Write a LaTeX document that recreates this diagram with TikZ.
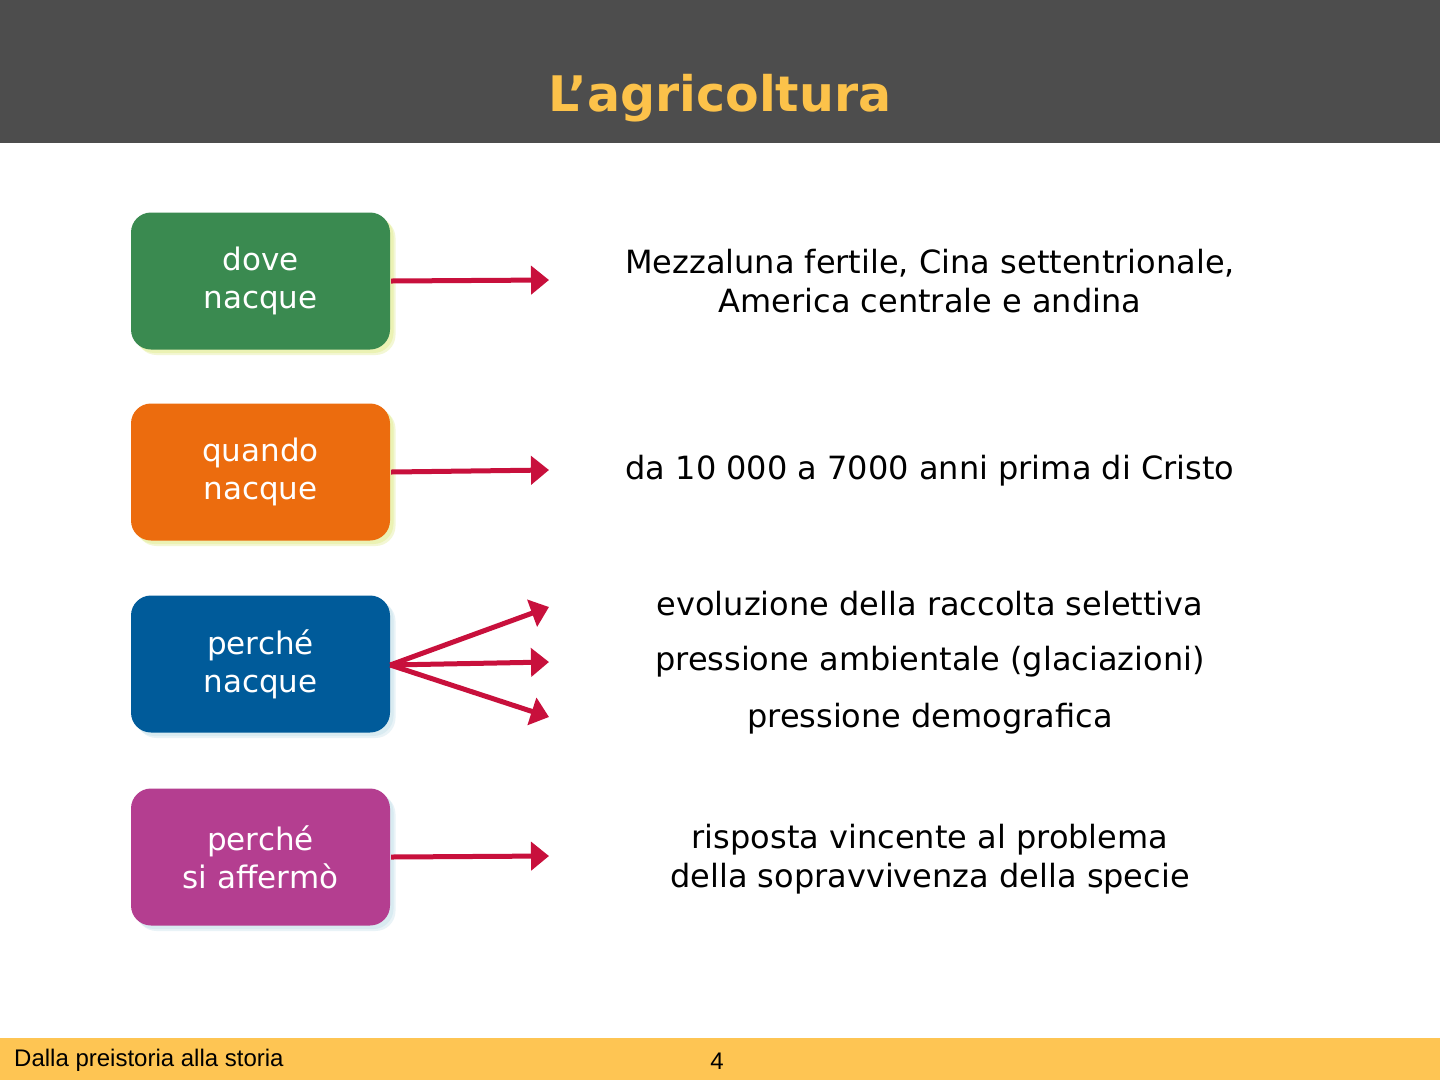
\documentclass[tikz,border=0pt]{standalone}
\usepackage{fontspec}
\setmainfont{DejaVu Sans}
\newfontfamily\footfont{Liberation Sans}
\usetikzlibrary{arrows.meta}
\definecolor{hdr}{HTML}{4D4D4D}
\definecolor{ttl}{HTML}{FCC24A}
\definecolor{ftr}{HTML}{FEC553}
\definecolor{cgreen}{HTML}{3A8A50}
\definecolor{corange}{HTML}{EC6C0E}
\definecolor{cblue}{HTML}{005B9A}
\definecolor{cmag}{HTML}{B43E90}
\definecolor{arr}{HTML}{C8103C}
\definecolor{shy}{HTML}{E6EFA0}
\definecolor{shb}{HTML}{CFE6EE}
\tikzset{
  boxstyle/.style={rounded corners=20pt, minimum width=259pt, minimum height=137pt,
    inner sep=0pt, text=white, align=center,
    font=\fontsize{31}{38}\selectfont},
  shadowbox/.style={rounded corners=20pt, minimum width=259pt, minimum height=137pt, inner sep=0pt},
  rtext/.style={align=center, text=black, font=\fontsize{32}{38.5}\selectfont},
  arrowline/.style={draw=arr, line width=5pt, -{Triangle[length=18pt,width=28pt]}},
}
\begin{document}
\begin{tikzpicture}[x=1pt,y=-1pt]
\useasboundingbox (0,0) rectangle (1440,1080);
\fill[white] (0,0) rectangle (1440,1080);
% header
\fill[hdr] (0,0) rectangle (1440,143);
\node[text=ttl, font=\fontsize{49}{52}\selectfont\bfseries] (title) at (720,98) {L’agricoltura};
% footer
\fill[ftr] (0,1038) rectangle (1440,1080);
\node[anchor=west, inner sep=0pt, font=\footfont\fontsize{24}{28}\selectfont] (foot) at (14,1060) {Dalla preistoria alla storia};
\node[inner sep=0pt, font=\footfont\fontsize{24}{28}\selectfont] (page) at (717,1061) {4};
% shadows
\foreach \cy/\sc in {280.5/shy, 471.5/shy, 663.5/shb, 856.5/shb}{
  \node[shadowbox, fill=\sc, opacity=0.45] at (266,\cy+6) {};
  \node[shadowbox, fill=\sc, opacity=0.6] at (264,\cy+4) {};
}
% boxes
\node[boxstyle, fill=cgreen] (b1) at (260.5,281) {dove\\nacque};
\node[boxstyle, fill=corange] (b2) at (260.5,472) {quando\\nacque};
\node[boxstyle, fill=cblue] (b3) at (260.5,664) {perché\\nacque};
\node[boxstyle, fill=cmag] (b4) at (260.5,857) {perché\\si affermò};
% arrow ends
\coordinate (e1) at (549,280);
\coordinate (e2) at (549,470);
\coordinate (e3a) at (549,607);
\coordinate (e3b) at (549,662);
\coordinate (e3c) at (549,717);
\coordinate (e4) at (549,856);
\draw[arrowline] ([xshift=1pt]b1.east) -- (e1);
\draw[arrowline] ([xshift=1pt]b2.east) -- (e2);
\draw[arrowline] ([yshift=-1pt]b3.east) -- (e3a);
\draw[arrowline] ([yshift=-1pt]b3.east) -- (e3b);
\draw[arrowline] ([yshift=-1pt]b3.east) -- (e3c);
\draw[arrowline] ([xshift=1pt]b4.east) -- (e4);
% texts
\node[rtext] (t1) at (930,281) {Mezzaluna fertile, Cina settentrionale,\\America centrale e andina};
\node[rtext] (t2) at (930,471) {da 10 000 a 7000 anni prima di Cristo};
\node[rtext] (t3a) at (930,604) {evoluzione della raccolta selettiva};
\node[rtext] (t3b) at (930,662) {pressione ambientale (glaciazioni)};
\node[rtext] (t3c) at (930,719) {pressione demografica};
\node[rtext] (t4) at (930,859) {risposta vincente al problema\\della sopravvivenza della specie};
\end{tikzpicture}
\end{document}
